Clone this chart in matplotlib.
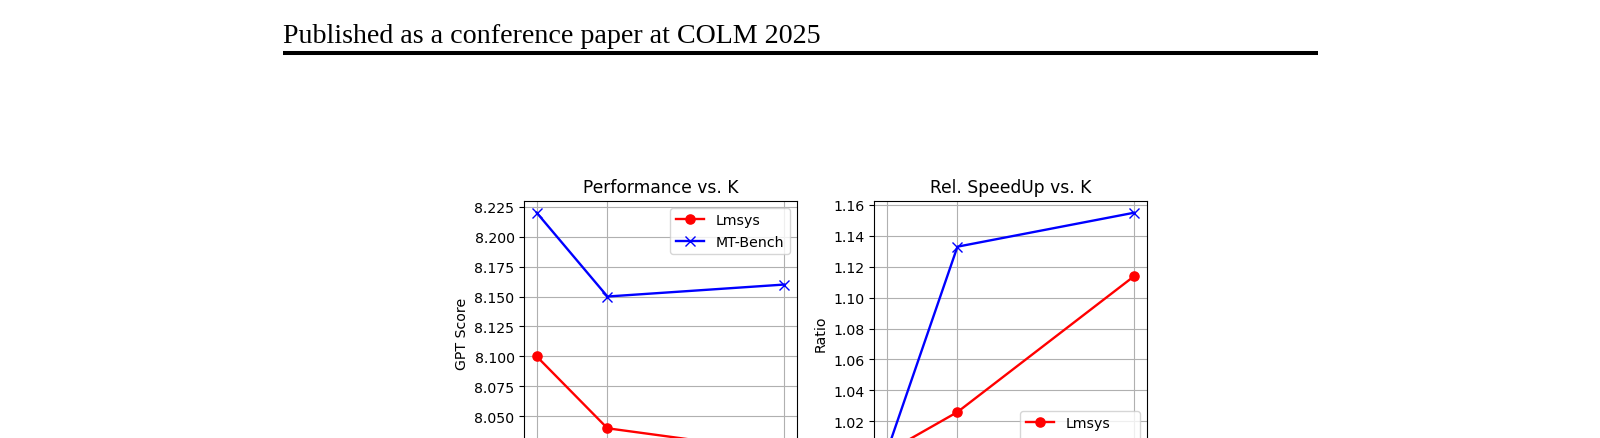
import numpy as np
import matplotlib
matplotlib.use('Agg')
from matplotlib import pyplot as plt
from matplotlib.lines import Line2D

# data (x tick labels are cut off, K values guessed from spacing)
k_values = [2, 4, 9]
perf_lmsys = [8.10, 8.04, 8.02]
perf_mtbench = [8.22, 8.15, 8.16]
speed_lmsys = [1.0, 1.026, 1.114]
speed_mtbench = [1.0, 1.133, 1.155]

W, H = 1600, 439
plt.rcParams['font.size'] = 10.2
plt.rcParams['axes.titlesize'] = 12.3
plt.rcParams['lines.linewidth'] = 1.7
plt.rcParams['lines.markersize'] = 6.6
fig = plt.figure(figsize=(W / 100, H / 100), dpi=100)


def px_axes(left, right, top, bottom):
    """axes rect from pixel edges (origin top-left)"""
    return [left / W, (H - bottom) / H, (right - left) / W, (bottom - top) / H]


# page header
fig.text(282.7 / W, (H - 43.3) / H, 'Published as a conference paper at COLM 2025',
         family='Liberation Serif', fontsize=20.2, va='baseline', ha='left')
fig.add_artist(Line2D([282.5 / W, 1317.5 / W], [(H - 53.7) / H] * 2,
                      color='black', lw=2.9, solid_capstyle='butt',
                      transform=fig.transFigure))

ax1 = fig.add_axes(px_axes(524.3, 796.7, 201.7, 465.2))
ax1.plot(k_values, perf_lmsys, 'o-', color='red', label='Lmsys')
ax1.plot(k_values, perf_mtbench, 'x-', color='blue', label='MT-Bench')
ax1.set_title('Performance vs. K')
ax1.set_ylabel('GPT Score')
ax1.set_xlabel('K')
ax1.set_xticks(k_values)
ax1.grid(True)
ax1.legend(loc='upper right')

ax2 = fig.add_axes(px_axes(874.3, 1146.7, 201.7, 465.2))
ax2.plot(k_values, speed_lmsys, 'o-', color='red', label='Lmsys')
ax2.plot(k_values, speed_mtbench, 'x-', color='blue', label='MT-Bench')
ax2.set_title('Rel. SpeedUp vs. K')
ax2.set_ylabel('Ratio')
ax2.set_xlabel('K')
ax2.set_xticks(k_values)
ax2.grid(True)
ax2.legend(loc='lower right')

fig.savefig('out.png', dpi=100)
